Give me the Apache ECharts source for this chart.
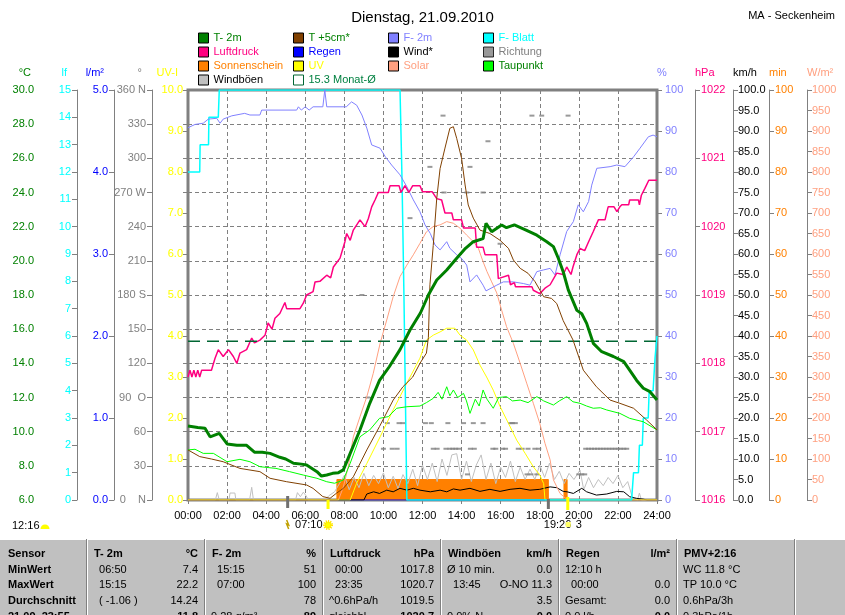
<!DOCTYPE html>
<html>
<head>
<meta charset="utf-8">
<script src="https://cdn.jsdelivr.net/npm/echarts@6/dist/echarts.min.js"></script>
<style>
  html, body { margin: 0; padding: 0; background: #fff; }
  #chart { width: 845px; height: 615px; }
</style>
</head>
<body>
<div id="chart"></div>
<script>
// Wetterdaten 21.09.2010 (Stunde, Wert)
const t2m = [[0,10.33],[0.5,10.25],[0.87,10.2],[1.13,9.7],[1.6,9.9],[2.0,9.28],[2.5,9.2],[3.0,9.2],[3.4,8.8],[3.8,8.8],[4.2,8.73],[4.7,8.5],[5.0,8.4],[5.4,8.15],[5.8,8.1],[6.07,8.05],[6.6,7.66],[6.83,7.4],[7.1,7.46],[7.4,7.56],[7.7,7.6],[7.95,7.76],[8.3,8.73],[8.8,10.1],[9.3,11.66],[9.8,13.0],[10.3,13.8],[10.85,14.8],[11.36,15.95],[11.9,16.96],[12.3,18.0],[12.73,18.88],[13.24,19.46],[13.75,20.15],[14.2,20.73],[14.6,21.12],[15.1,21.3],[15.25,22.2],[15.54,21.7],[16.05,22.1],[16.3,21.94],[16.7,22.1],[17.3,21.8],[17.85,21.5],[18.36,21.12],[18.7,20.83],[18.95,20.15],[19.2,19.36],[19.46,18.3],[19.9,17.1],[20.15,16.9],[20.4,16.34],[20.74,15.17],[21.17,14.68],[21.77,14.4],[22.3,14.1],[22.6,13.6],[22.96,13.0],[23.3,12.54],[23.64,12.34],[24,11.85]];
const t5cm = [[0,8.93],[0.6,8.54],[1.2,8.4],[1.8,8.24],[2.66,7.85],[3.68,7.66],[4.2,7.27],[5.05,7.07],[6.07,6.88],[6.4,6.68],[6.9,6.2],[7.27,6.1],[7.6,6.4],[7.95,6.68],[8.46,7.36],[9.15,8.93],[9.8,10.3],[10.5,11.85],[11.0,12.63],[11.5,13.2],[11.87,14.0],[12.2,14.6],[12.3,15.5],[12.38,18.6],[12.55,20.9],[12.73,23.66],[12.9,25.4],[13.15,26.6],[13.4,27.76],[13.58,27.85],[13.75,27.17],[14.0,26.0],[14.18,24.44],[14.34,23.27],[14.6,22.5],[14.94,21.8],[15.45,21.6],[15.97,21.2],[16.4,20.73],[16.65,20.05],[17.0,19.56],[17.4,19.27],[17.76,18.78],[18.1,18.1],[18.2,17.9],[18.6,17.8],[18.87,17.5],[19.2,16.5],[19.7,15.37],[20.23,13.6],[20.9,12.63],[21.6,11.85],[22.1,11.66],[22.8,11.37],[23.47,10.68],[24,10.1]];
const taupunkt = [[0,8.93],[0.36,8.97],[0.78,8.73],[1.3,8.73],[2,8.24],[2.66,8.38],[3.17,8.24],[3.68,7.95],[4.5,7.85],[5.2,7.66],[5.9,7.46],[6.6,7.27],[7.1,7.07],[7.5,6.98],[7.95,7.17],[8.3,8.15],[8.8,9.7],[9.3,10.1],[9.8,10.78],[10.25,10.88],[10.68,11.37],[11.2,11.46],[11.87,11.5],[12.2,11.7],[12.55,11.95],[12.8,12.3],[13.0,11.9],[13.24,12.63],[13.4,12.1],[13.58,12.44],[13.8,12.0],[14.1,12.24],[14.25,11.8],[14.43,11.07],[14.7,11.9],[14.9,11.5],[15.1,12.44],[15.3,11.9],[15.62,11.37],[15.9,12.0],[16.3,12.05],[16.6,11.8],[17.0,11.85],[17.4,11.7],[17.85,12.05],[18.2,11.8],[18.7,11.56],[19.0,11.8],[19.38,12.05],[19.7,11.75],[20.06,11.66],[20.4,11.5],[20.74,11.37],[21.1,11.4],[21.43,11.27],[22.1,11.07],[22.6,10.78],[23.3,10.58],[24,10.1]];
const monatMittel = [[0,15.3],[24,15.3]];
const feuchte = [[0,90.8],[0.36,91.6],[0.78,91.9],[1.04,92.9],[1.47,93.1],[1.64,91.9],[1.8,92.9],[2.24,93.7],[2.9,94.3],[3.17,93.9],[3.68,93.9],[3.77,95.1],[5.56,95.1],[5.65,95.9],[5.8,95.1],[6.0,95.9],[6.2,95.1],[6.4,95.9],[6.9,95.9],[7.0,100],[7.1,95.9],[8.1,95.9],[8.37,97.1],[8.63,96.3],[8.9,93.9],[9.15,90.7],[9.4,86.6],[9.83,85.8],[10.1,83.7],[10.42,81.7],[10.85,79.3],[11.2,76.4],[11.53,73.2],[11.87,70.3],[12.13,67.1],[12.4,65.0],[12.64,62.2],[12.9,61.0],[13.24,63.0],[13.4,61.4],[13.75,59.8],[14.0,58.9],[14.26,57.3],[14.43,53.2],[14.77,54.9],[15.1,52.4],[15.25,51],[15.8,52.4],[16.14,53.2],[16.65,53.2],[17.16,52.8],[17.5,52.4],[17.85,55.7],[18.18,56.1],[18.53,56.5],[18.78,54.9],[19.04,59.8],[19.38,65.5],[19.72,67.9],[19.97,72.0],[20.23,70.3],[20.5,72.8],[20.66,76.8],[20.92,80.9],[21.6,81.3],[21.94,81.7],[22.36,81.3],[22.8,83.7],[23.13,85.8],[23.56,88.6],[23.8,89.0],[24,88.6]];
const blatt = [[0,12],[0.6,12],[0.62,13],[1.05,13],[1.07,14],[1.55,14],[1.6,15],[10.85,15],[10.95,11.8],[11.05,7.5],[11.2,0],[22.7,0],[22.8,1],[23.05,1],[23.1,2],[23.25,2],[23.3,3],[23.55,3],[23.6,4],[23.8,4],[23.9,5.2],[24,6]];
const luftdruck = [[0,1017.8],[0.1,1017.9],[0.2,1017.8],[0.3,1017.9],[0.4,1017.8],[0.5,1017.9],[0.6,1017.8],[0.7,1017.9],[1.2,1017.9],[1.38,1018.07],[1.55,1018.2],[1.8,1018.1],[2.07,1018.2],[2.32,1018.1],[2.5,1018.0],[2.66,1018.15],[3.0,1018.2],[3.26,1018.37],[3.4,1018.3],[3.68,1018.34],[3.94,1018.41],[4.1,1018.59],[4.3,1018.5],[4.45,1018.66],[4.7,1018.73],[4.96,1018.89],[5.05,1018.8],[5.73,1018.8],[5.9,1018.88],[6.07,1019.0],[6.4,1019.05],[6.5,1019.19],[6.75,1019.2],[7.1,1019.29],[7.3,1019.25],[7.44,1019.41],[7.78,1019.54],[8.03,1019.78],[8.12,1019.9],[8.3,1019.8],[8.46,1019.95],[8.8,1020.1],[9.06,1020.0],[9.23,1020.12],[9.4,1020.29],[9.57,1020.39],[9.74,1020.5],[10.25,1020.5],[10.34,1020.6],[10.8,1020.6],[10.9,1020.5],[11.1,1020.6],[11.3,1020.5],[11.5,1020.6],[11.87,1020.6],[12.0,1020.51],[12.5,1020.51],[12.73,1020.41],[12.98,1020.39],[13.15,1020.2],[13.5,1020.2],[13.58,1020.1],[14.0,1020.1],[14.1,1019.98],[14.7,1019.98],[14.77,1019.7],[15.1,1019.7],[15.2,1019.59],[15.8,1019.59],[15.88,1019.24],[16.4,1019.29],[16.5,1019.15],[16.7,1019.18],[16.76,1019.12],[17.6,1019.12],[17.67,1019.07],[18.0,1019.02],[18.27,1019.1],[18.53,1019.15],[18.87,1019.32],[19.2,1019.3],[19.38,1019.41],[19.6,1019.3],[19.7,1019.41],[19.9,1019.59],[20.06,1019.68],[20.3,1019.65],[20.5,1019.78],[20.74,1019.93],[21.0,1020.1],[21.34,1020.1],[21.5,1020.29],[21.8,1020.29],[21.95,1020.22],[22.1,1020.29],[22.2,1020.32],[22.55,1020.32],[22.6,1020.39],[23.05,1020.39],[23.1,1020.32],[23.2,1020.46],[23.38,1020.56],[23.58,1020.68],[24,1020.68]];
const regen = [[0,0],[24,0]];
const wind = [[0,0],[9.0,0],[9.15,1.46],[9.5,2.0],[9.8,1.6],[10.17,2.4],[10.5,2.0],[10.85,2.85],[11.2,2.4],[11.53,2.85],[11.87,2.4],[12.4,2.0],[12.9,2.4],[13.24,2.0],[13.58,2.7],[13.92,2.4],[14.43,2.85],[14.94,2.1],[15.45,2.6],[15.97,2.1],[16.48,2.6],[16.99,2.85],[17.5,2.4],[18.0,2.6],[18.53,3.2],[18.87,3.0],[19.2,2.1],[19.4,2.0],[19.72,1.6],[20.15,2.85],[20.4,2.0],[20.9,1.2],[21.43,1.46],[21.94,2.1],[22.3,2.0],[22.6,0.8],[22.96,0.4],[23.3,0.2],[23.5,0],[24,0]];
const windboeen = [[0,0],[1.4,0],[1.5,1.8],[1.6,0],[2.1,0],[2.15,1.7],[2.4,1.7],[2.45,0],[3.15,0],[3.26,3.1],[3.35,0],[5.5,0],[5.6,1.8],[5.75,0.8],[5.9,1.9],[6.05,1.0],[6.15,0],[7.0,0],[7.2,1.0],[7.5,2.0],[7.75,4.0],[8.0,6.0],[8.25,2.5],[8.5,5.5],[8.75,3.0],[9.0,6.5],[9.25,3.5],[9.5,6.0],[9.75,4.0],[10.0,6.6],[10.25,3.0],[10.5,5.8],[10.75,2.8],[11.0,6.2],[11.25,4.0],[11.5,7.5],[11.75,3.5],[12.0,8.5],[12.25,5.0],[12.5,9.0],[12.75,4.5],[13.0,10.0],[13.25,6.0],[13.5,11.0],[13.75,11.3],[14.0,5.0],[14.25,9.5],[14.5,4.5],[14.75,8.5],[15.0,11.0],[15.25,5.0],[15.5,9.0],[15.75,4.0],[16.0,8.0],[16.25,5.5],[16.5,9.5],[16.75,4.5],[17.0,8.0],[17.25,5.0],[17.5,7.5],[17.75,5.0],[18.0,8.5],[18.25,5.5],[18.5,9.0],[18.75,5.0],[19.0,7.0],[19.25,4.0],[19.5,6.5],[19.75,5.0],[20.06,7.3],[20.25,2.5],[20.5,5.5],[20.75,3.0],[21.0,5.0],[21.25,3.5],[21.5,5.5],[21.75,4.0],[22.0,6.0],[22.25,3.0],[22.5,4.5],[22.75,0.5],[23.0,0],[23.1,1.7],[23.2,0],[24,0]];
const richtung = [[8.9,180],[9.2,90],[10.0,45],[10.2,67.5],[10.45,45],[10.7,45],[10.8,67.5],[11.0,67.5],[11.36,247.5],[12.15,67.5],[12.38,292.5],[12.45,67.5],[12.55,45],[12.75,45],[13.05,337.5],[13.1,270],[13.2,45],[13.3,67.5],[13.4,45],[13.55,45],[13.7,45],[13.85,45],[14.1,67.5],[14.27,270],[14.3,22.5],[14.43,292.5],[14.45,45],[14.6,67.5],[14.65,45],[15.1,67.5],[15.1,270],[15.35,315],[15.6,45],[15.75,45],[15.97,225],[16.1,45],[16.25,45],[16.5,67.5],[16.6,67.5],[16.75,67.5],[16.9,45],[17.1,45],[17.35,22.5],[17.4,45],[17.55,22.5],[17.6,337.5],[17.75,45],[17.85,22.5],[17.95,45],[18.1,337.5],[19.45,337.5],[20.0,22.5],[20.15,22.5],[20.3,22.5],[20.35,45],[20.5,45],[20.65,45],[20.8,45],[20.95,45],[21.1,45],[21.25,45],[21.4,45],[21.55,45],[21.7,45],[21.85,45],[22.0,45],[22.15,45],[22.3,45],[22.45,45]];
const sonnePerioden = [[7.62,18.44],[19.24,19.4]];   // Sonnenschein je 5 min
const sonneMin = 5;
const solar = [[0,0],[7.7,0],[7.95,32],[8.2,81],[8.46,154],[8.8,203],[9.15,252],[9.48,309],[9.83,382],[10.17,439],[10.5,496],[10.85,545],[11.2,573],[11.53,598],[11.87,626],[12.2,654],[12.55,667],[12.9,671],[13.24,679],[13.58,675],[13.92,663],[14.26,646],[14.6,630],[14.86,614],[15.1,581],[15.3,557],[15.54,532],[15.8,505],[16.05,463],[16.3,423],[16.65,382],[17.0,333],[17.33,285],[17.67,236],[18.0,187],[18.27,138],[18.53,98],[18.7,49],[19.04,16],[19.38,2],[19.6,0],[24,0]];
const uv = [[0,0],[8.3,0],[8.63,0.41],[9.15,0.89],[9.83,1.54],[10.5,2.2],[11.2,2.85],[11.87,3.46],[12.2,3.9],[12.55,4.02],[12.9,4.1],[13.24,4.19],[13.66,4.19],[13.92,4.02],[14.26,3.9],[14.6,3.66],[14.94,3.29],[15.28,3.0],[15.62,2.68],[15.97,2.28],[16.4,1.87],[16.82,1.46],[17.25,1.14],[17.67,0.81],[18.0,0.61],[18.2,0.4],[18.27,0],[24,0]];

// Sonnenauf-/untergang, Dämmerung (Stunden)
const daemmerung = 5.1, aufgang = 7 + 10 / 60, untergang = 19 + 26 / 60, abend = 18.44;

// Tabelle unten
const tabKopf = ['Sensor', ['T- 2m', '°C'], ['F- 2m', '%'], ['Luftdruck', 'hPa'], ['Windböen', 'km/h'], ['Regen', 'l/m²'], ['PMV+2:16', '']];
const tabZeilen = [
  ['MinWert', ['  06:50', '7.4'], ['  15:15', '51'], ['  00:00', '1017.8'], ['Ø 10 min.', '0.0'], ['12:10 h', ''], ['WC 11.8 °C', '']],
  ['MaxWert', ['  15:15', '22.2'], ['  07:00', '100'], ['  23:35', '1020.7'], ['  13:45', 'O-NO 11.3'], ['  00:00', '0.0'], ['TP 10.0 °C', '']],
  ['Durchschnitt', ['  ( -1.06 )', '14.24'], ['', '78'], ['^0.6hPa/h', '1019.5'], ['', '3.5'], ['Gesamt:', '0.0'], ['0.6hPa/3h', '']],
  ['21.09. 23:55', ['', '11.8'], ['9.28 g/m³', '89'], ['gleichbl.', '1020.7'], ['0.0% N', '0.0'], ['0.0 l/h', '0.0'], ['0.3hPa/1h', '']]
];

const FONT = "'Liberation Sans',Arial,sans-serif";
const FS = 11;
const GRAU = '#808080';

const chart = echarts.init(document.getElementById('chart'));

function sonneDaten() {
  const d = [[0, 0]];
  sonnePerioden.forEach(p => {
    d.push([p[0], 0], [p[0], sonneMin], [p[1], sonneMin], [p[1], 0]);
  });
  d.push([24, 0]);
  return d;
}

const achsen = [
  { pos: 'left', offset: 147, min: 6, max: 30, interval: 2, name: '°C', color: '#008000', margin: 7, fmt: v => v.toFixed(1), split: true },
  { pos: 'left', offset: 111, min: 0, max: 15, interval: 1, name: 'lf', color: '#00FFFF', margin: 6, fmt: v => String(v) },
  { pos: 'left', offset: 74, min: 0, max: 5, interval: 1, name: 'l/m²', color: '#0000FF', margin: 6, fmt: v => v.toFixed(1) },
  { pos: 'left', offset: 36, min: 0, max: 360, interval: 30, name: '°', color: GRAU, margin: 6, fmt: v => richtungLabel[v] || String(v) },
  { pos: 'left', offset: 0, min: 0, max: 10, interval: 1, name: 'UV-I', color: '#FFFF00', margin: 5, fmt: v => v.toFixed(1) },
  { pos: 'right', offset: 0, min: 0, max: 100, interval: 10, name: '%', color: '#8080FF', margin: 8, fmt: v => String(v) },
  { pos: 'right', offset: 38, min: 1016, max: 1022, interval: 1, name: 'hPa', color: '#FF0080', margin: 6, fmt: v => String(v) },
  { pos: 'right', offset: 76, min: 0, max: 100, interval: 5, name: 'km/h', color: '#000000', margin: 5, fmt: v => v.toFixed(1) },
  { pos: 'right', offset: 112, min: 0, max: 100, interval: 10, name: 'min', color: '#FF8000', margin: 6, fmt: v => String(v) },
  { pos: 'right', offset: 150, min: 0, max: 1000, interval: 50, name: 'W/m²', color: '#FFA080', margin: 5, fmt: v => String(v) }
];
const richtungLabel = { 360: '360 N', 270: '270 W', 180: '180 S', 90: '90  O', 0: '0    N' };

const yAxes = achsen.map(o => ({
  type: 'value',
  position: o.pos,
  offset: o.offset,
  min: o.min, max: o.max, interval: o.interval,
  axisLine: { show: true, lineStyle: { color: GRAU, width: 1 } },
  axisTick: { show: true, length: 5, lineStyle: { color: GRAU } },
  axisLabel: { color: o.color, fontSize: FS, fontFamily: FONT, margin: o.margin, formatter: o.fmt },
  splitLine: { show: !!o.split, lineStyle: { color: GRAU, type: [4, 3] } }
}));

function linie(name, data, yIdx, color, width, z, extra) {
  return Object.assign({
    name, type: 'line', data, yAxisIndex: yIdx, symbol: 'none', z,
    color, lineStyle: { color, width }, animation: false
  }, extra || {});
}

const series = [
  linie('Sonnenschein', sonneDaten(), 8, '#FF8000', 1, 1, { areaStyle: { color: '#FF8000', opacity: 1 } }),
  linie('Regen', regen, 2, '#0000FF', 1, 1),
  linie('Windböen', windboeen, 7, '#C0C0C0', 1, 2),
  linie('Wind*', wind, 7, '#000000', 1, 3),
  { name: 'Richtung', type: 'scatter', data: richtung, yAxisIndex: 3, symbol: 'rect', symbolSize: [5, 2], color: GRAU, z: 3, animation: false },
  linie('Solar', solar, 9, '#FFA080', 1, 4),
  linie('UV', uv, 4, '#FFFF00', 1, 4),
  linie('F- Blatt', blatt, 1, '#00FFFF', 1.5, 5),
  linie('F- 2m', feuchte, 5, '#8080FF', 1, 5),
  linie('Luftdruck', luftdruck, 6, '#FF0080', 1.5, 6),
  linie('15.3 Monat-Ø', monatMittel, 0, '#006633', 1.5, 6, { lineStyle: { color: '#006633', width: 1.5, type: [12, 7] } }),
  linie('Taupunkt', taupunkt, 0, '#00FF00', 1, 7),
  linie('T +5cm*', t5cm, 0, '#804000', 1, 8),
  linie('T- 2m', t2m, 0, '#008000', 3, 9)
];

const legendFarben = {
  'T- 2m': ['#008000', '#008000'], 'Luftdruck': ['#FF0080', '#FF0080'], 'Sonnenschein': ['#FF8000', '#FF8000'], 'Windböen': ['#C0C0C0', '#000000'],
  'T +5cm*': ['#804000', '#008000'], 'Regen': ['#0000FF', '#0000FF'], 'UV': ['#FFFF00', '#FFFF00'], '15.3 Monat-Ø': ['#FFFFFF', '#008040'],
  'F- 2m': ['#8080FF', '#8080FF'], 'Wind*': ['#000000', '#000000'], 'Solar': ['#FFA080', '#FFA080'],
  'F- Blatt': ['#00FFFF', '#00FFFF'], 'Richtung': [GRAU, GRAU], 'Taupunkt': ['#00FF00', '#008000']
};
const legendSpalten = [
  ['T- 2m', 'Luftdruck', 'Sonnenschein', 'Windböen'],
  ['T +5cm*', 'Regen', 'UV', '15.3 Monat-Ø'],
  ['F- 2m', 'Wind*', 'Solar'],
  ['F- Blatt', 'Richtung', 'Taupunkt']
];
const legendX = [198, 293, 388, 483];

const legends = legendSpalten.map((namen, i) => ({
  orient: 'vertical', left: legendX[i], top: 32, padding: 0,
  itemWidth: 10, itemHeight: 10, itemGap: 2, icon: 'rect', selectedMode: false,
  textStyle: { fontSize: FS, fontFamily: FONT, lineHeight: 12 },
  data: namen.map(n => ({
    name: n,
    textStyle: { color: legendFarben[n][1] },
    itemStyle: {
      color: legendFarben[n][0],
      borderColor: n === '15.3 Monat-Ø' ? '#006633' : '#000',
      borderWidth: 1
    }
  }))
}));

const pad = h => (h < 10 ? '0' : '') + h + ':00';

chart.setOption({
  backgroundColor: '#fff',
  animation: false,
  textStyle: { fontFamily: FONT },
  title: [
    { text: 'Dienstag, 21.09.2010', left: 'center', top: 5, textStyle: { fontSize: 15, fontWeight: 'normal', color: '#000', fontFamily: FONT } },
    { text: 'MA - Seckenheim', right: 5, top: 5, textStyle: { fontSize: FS, fontWeight: 'normal', color: '#000', fontFamily: FONT } }
  ],
  legend: legends,
  grid: { left: 188, right: 188, top: 90, bottom: 115, show: true, borderColor: GRAU, borderWidth: 3, containLabel: false },
  xAxis: {
    type: 'value', min: 0, max: 24, interval: 2,
    axisLine: { show: true, lineStyle: { color: GRAU } },
    axisTick: { show: true, length: 4, lineStyle: { color: GRAU } },
    axisLabel: { color: '#000', fontSize: FS, fontFamily: FONT, margin: 10, formatter: v => pad(v) },
    splitLine: { show: true, lineStyle: { color: GRAU, type: [4, 3] } }
  },
  yAxis: yAxes,
  series
});

// Achsentitel, Markierungen unter der Zeitachse und Tabelle
const px = h => chart.convertToPixel({ xAxisIndex: 0 }, h);
const y0 = chart.convertToPixel({ yAxisIndex: 4 }, 0);
const yTop = chart.convertToPixel({ yAxisIndex: 4 }, 10);
const xLinks = px(0), xRechts = px(24);
const g = [];

function text(x, y, s, opt) {
  g.push({
    type: 'text', x, y, z: 100,
    style: Object.assign({ text: s, fill: '#000', font: FS + 'px ' + FONT, align: 'left', verticalAlign: 'middle' }, opt || {})
  });
}
function rect(x, y, w, h, fill, z) {
  g.push({ type: 'rect', shape: { x, y, width: w, height: h }, style: { fill }, z: z || 100, silent: true });
}

achsen.forEach(o => {
  if (o.pos === 'left') text(xLinks - o.offset - 10, yTop - 17, o.name, { fill: o.color, align: 'right' });
  else text(xRechts + o.offset, yTop - 17, o.name, { fill: o.color, align: 'left' });
});

rect(px(daemmerung) - 1.5, y0 - 4, 3, 12, '#707070');
rect(px(aufgang) - 1.5, y0, 3, 9, '#FFFF00');
rect(px(abend) - 1.5, y0 - 1, 3, 10, '#707070');
rect(px(untergang) - 1.5, y0 - 3, 3, 13, '#FFFF00');

// Blitz / Dämmerung
g.push({ type: 'polyline', z: 100, shape: { points: [[px(daemmerung) - 1, y0 + 20], [px(daemmerung) + 1, y0 + 25], [px(daemmerung) - 1, y0 + 24], [px(daemmerung) + 1, y0 + 29]] }, style: { stroke: '#C0A000', lineWidth: 1.5, fill: null } });
// Sonne beim Aufgang
g.push({ type: 'circle', z: 100, shape: { cx: px(aufgang), cy: y0 + 25, r: 3.5 }, style: { fill: '#FFFF00', stroke: '#FFE000', lineWidth: 3, lineDash: [1, 1] } });
text(px(aufgang) - 33, y0 + 25, '07:10');
// Untergang
text(px(untergang) - 24, y0 + 25, '19:26');
rect(px(untergang) - 2, y0 + 22, 5, 5, '#FFFF66');
text(px(untergang) + 8, y0 + 25, '3');
// Tageslänge
text(12, y0 + 26, '12:16');
g.push({ type: 'sector', z: 100, shape: { cx: 45, cy: y0 + 29, r0: 0, r: 4.5, startAngle: Math.PI, endAngle: 2 * Math.PI }, style: { fill: '#FFFF00' } });

// Tabelle
const tabTop = 539;
const spaltenX = [0, 87, 205, 323, 441, 559, 677, 795, 845];
const zeileY = [554, 569.5, 585, 601, 617];
rect(0, tabTop, 845, 615 - tabTop, '#C0C0C0', 90);
g.push({ type: 'line', z: 91, shape: { x1: 0, y1: tabTop + 0.5, x2: 845, y2: tabTop + 0.5 }, style: { stroke: '#FFFFFF', lineWidth: 1 } });
spaltenX.slice(1, -1).forEach(x => {
  g.push({ type: 'line', z: 91, shape: { x1: x - 0.5, y1: tabTop, x2: x - 0.5, y2: 615 }, style: { stroke: '#808080', lineWidth: 1 } });
  g.push({ type: 'line', z: 91, shape: { x1: x + 0.5, y1: tabTop, x2: x + 0.5, y2: 615 }, style: { stroke: '#FFFFFF', lineWidth: 1 } });
});

const fett = 'bold ' + FS + 'px ' + FONT, normal = FS + 'px ' + FONT;
text(8, zeileY[0], tabKopf[0], { font: fett });
tabKopf.slice(1).forEach((k, i) => {
  text(spaltenX[i + 1] + 7, zeileY[0], k[0], { font: fett });
  if (k[1]) text(spaltenX[i + 2] - 7, zeileY[0], k[1], { font: fett, align: 'right' });
});
tabZeilen.forEach((z, r) => {
  const y = zeileY[r + 1];
  const letzte = r === tabZeilen.length - 1;
  text(8, y, z[0], { font: fett });
  z.slice(1).forEach((c, i) => {
    if (c[0]) text(spaltenX[i + 1] + 6, y, c[0], { font: normal });
    if (c[1]) text(spaltenX[i + 2] - 7, y, c[1], { font: letzte ? fett : normal, align: 'right' });
  });
});

chart.setOption({ graphic: g });
</script>
</body>
</html>
